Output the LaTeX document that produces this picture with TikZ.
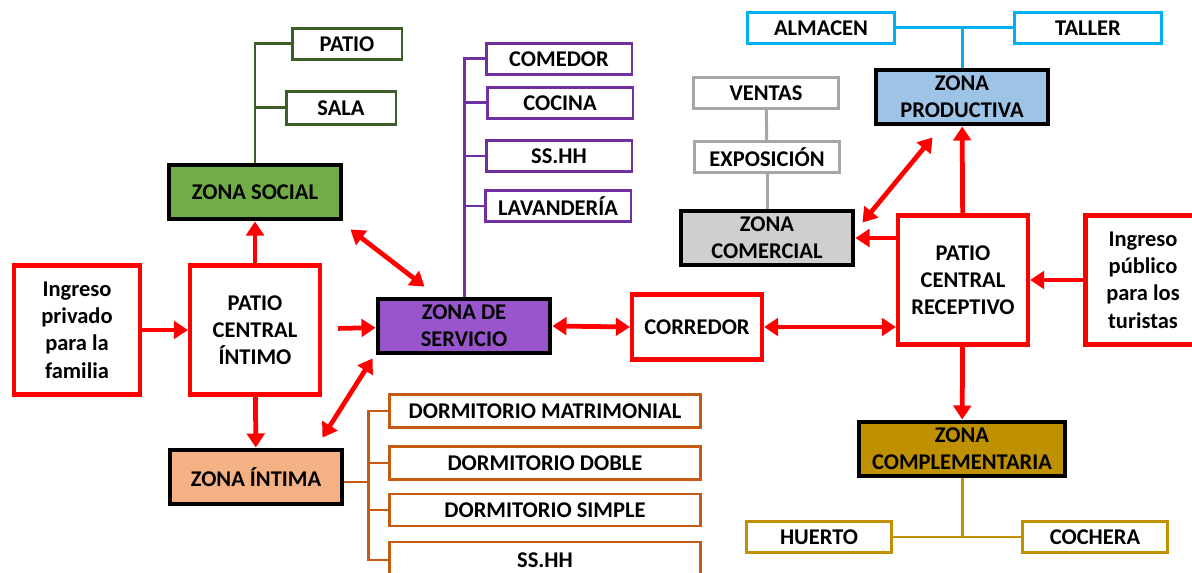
\documentclass[tikz,border=0pt]{standalone}
\usepackage{fontspec}
\setmainfont{Carlito}
\usepackage{tikz}
\usetikzlibrary{arrows.meta}
\definecolor{socialgreen}{RGB}{112,173,71}
\definecolor{socialline}{RGB}{60,95,40}
\definecolor{servpurple}{RGB}{153,85,204}
\definecolor{servline}{RGB}{112,48,160}
\definecolor{intimafill}{RGB}{244,177,131}
\definecolor{intimaline}{RGB}{197,90,17}
\definecolor{prodfill}{RGB}{157,195,230}
\definecolor{prodline}{RGB}{0,176,240}
\definecolor{comfill}{RGB}{208,206,206}
\definecolor{comline}{RGB}{166,166,166}
\definecolor{compgold}{RGB}{191,144,0}
\tikzset{
  zonebox/.style={draw=black,line width=2.8pt,minimum width=3.44cm,minimum height=1.08cm,align=center,inner sep=1pt},
  patiobox/.style={draw=red,line width=2.4pt,fill=white,minimum width=2.6cm,minimum height=2.58cm,align=center},
  roombox/.style={draw,fill=white,line width=1.7pt,minimum height=0.62cm,inner sep=1pt},
  redarrow/.style={red,line width=2.7pt,-{Triangle[length=8pt,width=10pt]}},
  twoway/.style={red,line width=2.7pt,{Triangle[length=8pt,width=10pt]}-{Triangle[length=8pt,width=10pt]}},
  branch/.style={line width=1.7pt}
}

\begin{document}
\begin{tikzpicture}[x=0.02cm,y=-0.02cm,font=\fontsize{12.8}{15.5}\selectfont\bfseries]
  \useasboundingbox (0,0) rectangle (1192,573);
  % zona social
  \node[roombox,draw=socialline,minimum width=2.2cm] (patioS) at (347,44) {PATIO};
  \node[roombox,draw=socialline,minimum width=2.2cm,minimum height=0.66cm] (sala) at (341,108) {SALA};
  \node[zonebox,fill=socialgreen] (social) at (255,192) {ZONA SOCIAL};
  \draw[branch,socialline] (social.north) |- (patioS.west);
  \draw[branch,socialline] (social.north) |- (sala.west);
  % patio central intimo
  \node[patiobox,minimum width=2.52cm] (ingresoP) at (77,330) {Ingreso\\privado\\para la\\familia};
  \node[patiobox] (patioI) at (255,330) {PATIO\\CENTRAL\\ÍNTIMO};
  \node[zonebox,fill=intimafill] (intima) at (256,477) {ZONA ÍNTIMA};
  \draw[redarrow] (ingresoP) -- (patioI);
  \draw[redarrow] (patioI) -- (social);
  \draw[redarrow] (patioI) -- (intima);
  % zona de servicio
  \node[zonebox,fill=servpurple] (servicio) at (464,326) {ZONA DE\\SERVICIO};
  \node[roombox,draw=servline,minimum width=2.92cm] (comedor) at (559,59) {COMEDOR};
  \node[roombox,draw=servline,minimum width=2.92cm] (cocina) at (560,103) {COCINA};
  \node[roombox,draw=servline,minimum width=2.92cm] (sshhS) at (559,156) {SS.HH};
  \node[roombox,draw=servline,minimum width=2.92cm] (lavanderia) at (558,206) {LAVANDERÍA};
  \foreach \room in {comedor,cocina,sshhS,lavanderia}
    \draw[branch,servline] (servicio.north) |- (\room.west);
  \draw[redarrow,shorten <=9pt] (patioI) -- (servicio);
  \draw[twoway] ([shift={(7,8)}]social.south east) -- ([shift={(49,-10)}]servicio.north west);
  \draw[twoway] ([shift={(-22,-10)}]intima.north east) -- ([shift={(-3,3)}]servicio.south west);
  % dormitorios
  \node[roombox,draw=intimaline,minimum width=6.24cm,minimum height=0.66cm] (matrimonial) at (545,411) {DORMITORIO MATRIMONIAL};
  \node[roombox,draw=intimaline,minimum width=6.24cm,minimum height=0.66cm] (doble) at (545,463) {DORMITORIO DOBLE};
  \node[roombox,draw=intimaline,minimum width=6.24cm,minimum height=0.64cm] (simple) at (545,510) {DORMITORIO SIMPLE};
  \node[roombox,draw=intimaline,minimum width=6.24cm,minimum height=0.72cm] (sshhI) at (545,560) {SS.HH};
  \draw[branch,intimaline] ([yshift=-0.1cm]intima.east) -- ++(24,0) coordinate (otrunk);
  \foreach \room in {matrimonial,doble,simple,sshhI}
    \draw[branch,intimaline] (otrunk) |- (\room.west);
  % corredor y patio receptivo
  \node[patiobox,minimum height=1.3cm] (corredor) at (697,327) {CORREDOR};
  \node[patiobox] (patioR) at (963,280) {PATIO\\CENTRAL\\RECEPTIVO};
  \node[patiobox,minimum width=2.3cm] (ingresoT) at (1143,280) {Ingreso\\público\\para los\\turistas};
  \draw[twoway] (servicio.east) -- (corredor.west);
  \draw[twoway] (corredor.east) -- (corredor.east -| patioR.west);
  \draw[redarrow] (ingresoT) -- (patioR);
  % zona productiva
  \node[zonebox,fill=prodfill] (productiva) at (962,97) {ZONA\\PRODUCTIVA};
  \node[roombox,draw=prodline,minimum width=2.94cm] (almacen) at (821,28) {ALMACEN};
  \node[roombox,draw=prodline,minimum width=2.94cm] (taller) at (1088,28) {TALLER};
  \draw[branch,prodline] (productiva.north) |- (almacen.east);
  \draw[branch,prodline] (productiva.north) |- (taller.west);
  \draw[redarrow] (patioR) -- (productiva);
  % zona comercial
  \node[zonebox,fill=comfill] (comercial) at (767,238) {ZONA\\COMERCIAL};
  \node[roombox,draw=comline,minimum width=2.9cm] (ventas) at (766,93) {VENTAS};
  \node[roombox,draw=comline,minimum width=2.9cm] (exposicion) at (767,157) {EXPOSICIÓN};
  \draw[branch,comline] (ventas) -- (exposicion);
  \draw[branch,comline] (exposicion) -- (comercial);
  \draw[redarrow] (patioR.west |- comercial) -- (comercial.east);
  \draw[twoway] ([shift={(7,14)}]comercial.north east) -- ([shift={(59,11)}]productiva.south west);
  % zona complementaria
  \node[zonebox,fill=compgold,minimum width=4.12cm] (complementaria) at (962,449) {ZONA\\COMPLEMENTARIA};
  \node[roombox,draw=compgold,minimum width=2.9cm] (huerto) at (819,537) {HUERTO};
  \node[roombox,draw=compgold,minimum width=2.9cm] (cochera) at (1095,537) {COCHERA};
  \draw[branch,compgold] (complementaria.south) |- (huerto.east);
  \draw[branch,compgold] (complementaria.south) |- (cochera.west);
  \draw[redarrow] (patioR) -- (complementaria);
\end{tikzpicture}
\end{document}
